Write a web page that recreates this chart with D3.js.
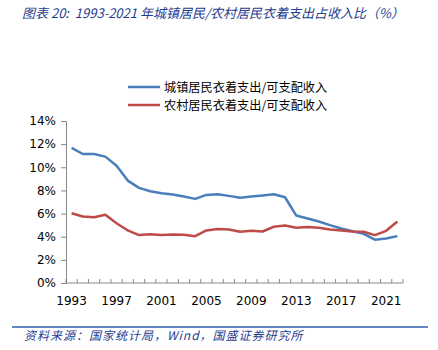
<!DOCTYPE html>
<html>
<head>
<meta charset="utf-8">
<script src="https://cdn.jsdelivr.net/npm/d3@7"></script>
<style>
  body { margin: 0; background: #fff; }
</style>
</head>
<body>
<script>
(()=>{
    const width = 438;
    const height = 350;

    const years = d3.range(1993, 2023);
    const urban = [11.67, 11.15, 11.15, 10.92, 10.14, 8.85, 8.22, 7.93, 7.76, 7.64,
                   7.47, 7.27, 7.61, 7.67, 7.53, 7.36, 7.47, 7.56, 7.67, 7.41,
                   5.83, 5.57, 5.32, 5.00, 4.71, 4.48, 4.25, 3.74, 3.85, 4.05];
    const rural = [6.03, 5.75, 5.69, 5.89, 5.17, 4.54, 4.14, 4.22, 4.14, 4.20,
                   4.17, 4.05, 4.54, 4.66, 4.63, 4.43, 4.51, 4.45, 4.86, 4.97,
                   4.77, 4.83, 4.77, 4.63, 4.54, 4.45, 4.43, 4.14, 4.51, 5.32];
    const seriesNames = ["城镇居民衣着支出/可支配收入", "农村居民衣着支出/可支配收入"];
    const colors = ["#4a7ebb", "#be4b48"];
    const yTicks = [0, 2, 4, 6, 8, 10, 12, 14];
    const xLabels = [1993, 1997, 2001, 2005, 2009, 2013, 2017, 2021];

    const svg = d3.create("svg")
        .attr("width", width)
        .attr("height", height)
        .attr("viewBox", [0, 0, width, height]);

    // title
    svg.append("text")
        .attr("x", 22)
        .attr("y", 18)
        .attr("font-family", "'Noto Sans CJK SC', sans-serif")
        .attr("font-size", "13px")
        .attr("font-style", "italic")
        .attr("fill", "#1f3d8f")
        .attr("xml:space", "preserve")
        .text("图表 20:  1993-2021 年城镇居民/农村居民衣着支出占收入比（%）");

    const x = d3.scaleBand()
        .domain(years)
        .range([66, 403]);

    const y = d3.scaleLinear()
        .domain([0, 14])
        .range([283, 121]);

    // y axis
    const yAxis = svg.append("g")
        .attr("transform", "translate(66,0)")
        .call(d3.axisLeft(y).tickValues(yTicks).tickFormat(d => d + "%").tickSize(5).tickPadding(5));
    yAxis.selectAll("text")
        .attr("font-family", "'DejaVu Sans', sans-serif")
        .attr("font-size", "12px")
        .attr("fill", "#000");
    yAxis.select(".domain").attr("stroke", "#888");
    yAxis.selectAll(".tick line").attr("stroke", "#888");

    // x axis, ticks between categories pointing up
    const xAxis = svg.append("g")
        .attr("transform", "translate(0,283)");
    xAxis.append("line")
        .attr("x1", 66).attr("x2", 403)
        .attr("stroke", "#888");
    xAxis.selectAll("line.tk")
        .data(years.concat([null]))
        .join("line")
        .attr("class", "tk")
        .attr("x1", (d, i) => 66 + i * x.step())
        .attr("x2", (d, i) => 66 + i * x.step())
        .attr("y1", 0).attr("y2", -4)
        .attr("stroke", "#888");
    xAxis.selectAll("text")
        .data(xLabels)
        .join("text")
        .attr("x", d => x(d) + x.bandwidth() / 2)
        .attr("y", 22)
        .attr("text-anchor", "middle")
        .attr("font-family", "'DejaVu Sans', sans-serif")
        .attr("font-size", "12px")
        .text(d => d);

    const line = d3.line()
        .x((d, i) => x(years[i]) + x.bandwidth() / 2)
        .y(d => y(d));

    [urban, rural].forEach((s, k) => {
        svg.append("path")
            .attr("d", line(s))
            .attr("fill", "none")
            .attr("stroke", colors[k])
            .attr("stroke-width", 2.5)
            .attr("stroke-linejoin", "round");
    });

    // legend
    const legend = svg.append("g");
    seriesNames.forEach((n, k) => {
        const ly = 87 + k * 18;
        legend.append("line")
            .attr("x1", 128).attr("x2", 160)
            .attr("y1", ly).attr("y2", ly)
            .attr("stroke", colors[k])
            .attr("stroke-width", 2.5);
        legend.append("text")
            .attr("x", 164)
            .attr("y", ly + 4.5)
            .attr("font-family", "'Noto Sans CJK SC', sans-serif")
            .attr("font-size", "12.2px")
            .text(n);
    });

    // footer
    svg.append("line")
        .attr("x1", 12).attr("x2", 428)
        .attr("y1", 327).attr("y2", 327)
        .attr("stroke", "#2e5fa8")
        .attr("stroke-width", 1.5);
    svg.append("text")
        .attr("x", 24)
        .attr("y", 340)
        .attr("font-family", "'Noto Sans CJK SC', sans-serif")
        .attr("font-size", "12px")
        .attr("font-style", "italic")
        .attr("letter-spacing", "1px")
        .attr("fill", "#1f3d8f")
        .text("资料来源：国家统计局，Wind，国盛证券研究所");

    d3.select("body").append(() => svg.node());
})()
</script>
</body>
</html>
